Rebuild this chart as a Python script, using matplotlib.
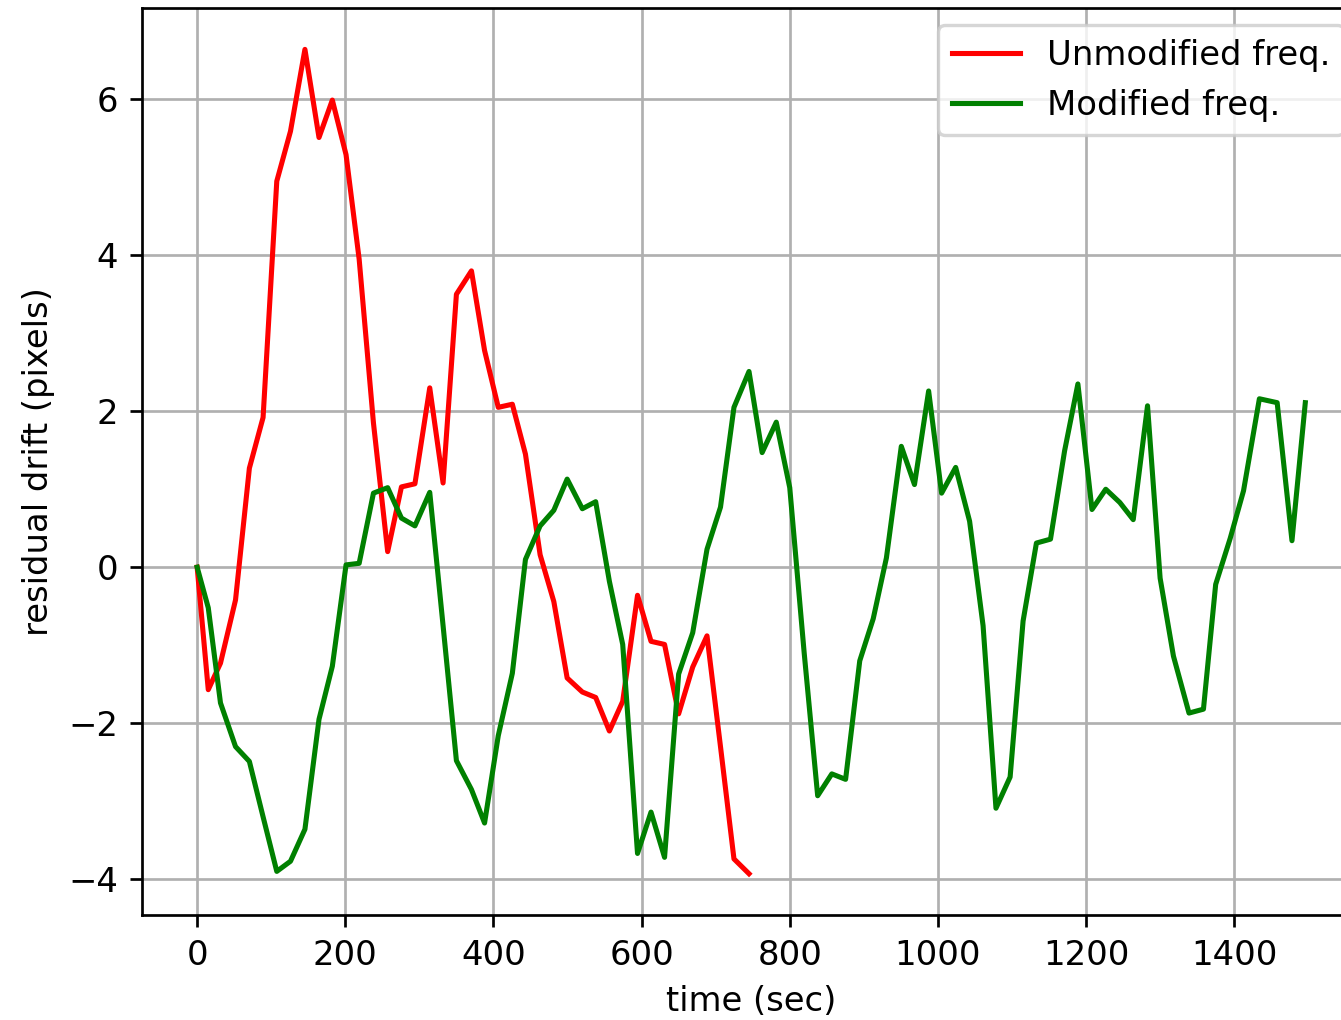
import numpy as np
import matplotlib
matplotlib.use("Agg")
import matplotlib.pyplot as plt

# sample times (sec), shared by both runs
time = [0, 15, 31.5, 51.8, 70.5, 89, 107.5, 126, 145.5, 164.5, 182.5, 201, 218.7,
        238, 257.2, 275.8, 294, 314, 332, 350, 370.3, 388, 406.5, 425.5, 443.2,
        463, 481.5, 499.5, 520, 538, 556.5, 574.5, 594.5, 612.7, 631, 650, 669,
        688.3, 706.5, 724.7, 745, 762.7, 781.8, 800, 819.5, 837.7, 856.8, 875.4,
        894.5, 912.7, 930.5, 950.6, 968.4, 987.5, 1005, 1024, 1042.8, 1061,
        1078.4, 1097.5, 1115, 1133, 1152, 1171, 1189, 1208, 1226.6, 1245.6,
        1263.7, 1283, 1300, 1318, 1339, 1358.5, 1375, 1394.6, 1412.6, 1434,
        1458, 1478, 1496]

# residual drift (pixels)
unmod = [0, -1.57, -1.23, -0.42, 1.27, 1.92, 4.95, 5.59, 6.64, 5.51, 5.99, 5.29,
         3.95, 1.85, 0.20, 1.03, 1.07, 2.30, 1.08, 3.50, 3.80, 2.78, 2.05, 2.09,
         1.45, 0.16, -0.44, -1.42, -1.60, -1.67, -2.10, -1.72, -0.36, -0.95,
         -0.99, -1.88, -1.28, -0.88, -2.30, -3.74, -3.93]

mod = [0, -0.52, -1.74, -2.30, -2.49, -3.20, -3.90, -3.77, -3.36, -1.95, -1.27,
       0.03, 0.05, 0.95, 1.02, 0.63, 0.53, 0.96, -0.75, -2.48, -2.85, -3.28,
       -2.16, -1.36, 0.10, 0.53, 0.73, 1.13, 0.75, 0.84, -0.18, -0.99, -3.67,
       -3.14, -3.72, -1.37, -0.84, 0.23, 0.77, 2.05, 2.51, 1.47, 1.86, 1.02,
       -1.10, -2.93, -2.65, -2.72, -1.20, -0.66, 0.12, 1.55, 1.06, 2.26, 0.95,
       1.28, 0.59, -0.75, -3.09, -2.69, -0.69, 0.31, 0.36, 1.49, 2.35, 0.74,
       1.00, 0.83, 0.61, 2.07, -0.14, -1.14, -1.87, -1.82, -0.22, 0.37, 0.98,
       2.16, 2.11, 0.34, 2.11]

t_unmod = time[:len(unmod)]

dpi = 244
fig = plt.figure(figsize=(1341 / dpi, 1020 / dpi), dpi=dpi)
ax = fig.add_axes([0.1057, 0.103, 0.909, 0.889])

ax.plot(t_unmod, unmod, color='red', label='Unmodified freq.')
ax.plot(time, mod, color='green', label='Modified freq.')

ax.set_xlabel("time (sec)")
ax.set_ylabel("residual drift (pixels)")
ax.grid(True)
ax.legend(loc='upper right')

fig.savefig("out.png", dpi=dpi)
